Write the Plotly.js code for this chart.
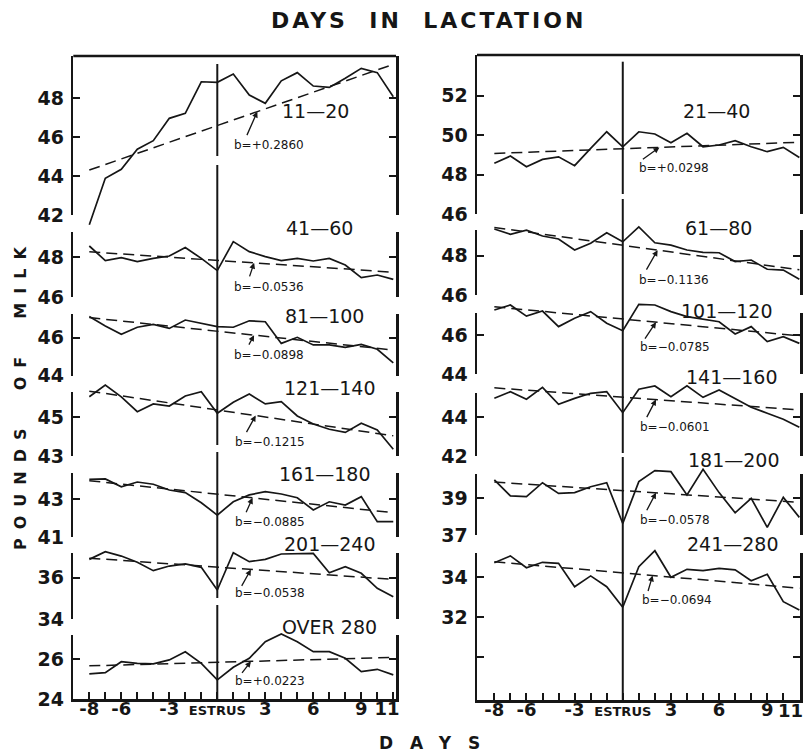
<!DOCTYPE html>
<html>
<head>
<meta charset="utf-8">
<script src="https://cdn.plot.ly/plotly-3.0.1.min.js"></script>
<style>
  html, body { margin: 0; padding: 0; background: #fff; }
  #chart { width: 809px; height: 755px; }
</style>
</head>
<body>
<div id="chart"></div>
<script>
// Days relative to estrus (0 = day of estrus)
const days = [-8, -7, -6, -5, -4, -3, -2, -1, 0, 1, 2, 3, 4, 5, 6, 7, 8, 9, 10, 11];
const dayLabels = {'-8': '-8', '-6': '-6', '-3': '-3', '0': 'ESTRUS', '3': '3', '6': '6', '9': '9', '11': '11'};

// Stage of lactation groups (days in lactation)
const groupsLeft  = ['11—20', '41—60', '81—100', '121—140', '161—180', '201—240', 'OVER 280'];
const groupsRight = ['21—40', '61—80', '101—120', '141—160', '181—200', '241—280'];

// Daily pounds of milk, days -8 .. 11
const milk11_20   = [41.50, 43.89, 44.35, 45.38, 45.82, 46.97, 47.23, 48.85, 48.82, 49.25, 48.17, 47.74, 48.90, 49.32, 48.63, 48.56, 49.03, 49.54, 49.32, 48.08];
const milk41_60   = [48.55, 47.82, 47.97, 47.77, 47.93, 48.05, 48.47, 47.93, 47.32, 48.77, 48.27, 48.02, 47.82, 47.93, 47.80, 47.93, 47.60, 46.97, 47.10, 46.88];
const milk81_100  = [47.11, 46.62, 46.18, 46.55, 46.70, 46.49, 46.93, 46.76, 46.58, 46.55, 46.89, 46.84, 45.70, 46.02, 45.62, 45.62, 45.49, 45.65, 45.39, 44.68];
const milk121_140 = [46.06, 46.67, 46.06, 45.29, 45.69, 45.58, 46.10, 46.32, 45.21, 45.78, 46.20, 45.69, 45.81, 45.07, 44.65, 44.38, 44.22, 44.69, 44.34, 43.35];
const milk161_180 = [44.05, 44.07, 43.66, 43.91, 43.79, 43.49, 43.35, 42.82, 42.17, 42.87, 43.23, 43.40, 43.28, 43.08, 42.44, 42.87, 42.70, 43.14, 41.82, 41.82];
const milk201_240 = [36.88, 37.25, 37.04, 36.74, 36.34, 36.56, 36.66, 36.50, 35.41, 37.20, 36.77, 36.88, 37.14, 37.14, 37.17, 36.24, 36.53, 36.21, 35.49, 35.09];
const milkOver280 = [25.27, 25.33, 25.88, 25.80, 25.77, 25.97, 26.38, 25.80, 24.97, 25.60, 26.05, 26.88, 27.27, 26.88, 26.38, 26.38, 26.05, 25.38, 25.50, 25.22];

const milk21_40   = [48.57, 48.94, 48.40, 48.77, 48.90, 48.45, 49.33, 50.17, 49.41, 50.17, 50.06, 49.61, 50.09, 49.41, 49.50, 49.72, 49.41, 49.16, 49.38, 48.87];
const milk61_80   = [49.36, 49.09, 49.30, 49.00, 48.85, 48.29, 48.63, 49.17, 48.71, 49.47, 48.66, 48.54, 48.29, 48.17, 48.15, 47.70, 47.78, 47.31, 47.27, 46.80];
const milk101_120 = [47.28, 47.54, 46.97, 47.23, 46.43, 46.86, 47.20, 46.60, 46.22, 47.57, 47.54, 47.20, 46.94, 46.80, 46.68, 46.05, 46.43, 45.66, 45.91, 45.57];
const milk141_160 = [44.98, 45.32, 44.93, 45.55, 44.67, 44.98, 45.24, 45.32, 44.24, 45.45, 45.62, 45.06, 45.63, 45.03, 45.41, 44.98, 44.52, 44.21, 43.90, 43.48];
const milk181_200 = [40.00, 39.13, 39.09, 39.85, 39.27, 39.31, 39.63, 39.85, 37.63, 39.91, 40.51, 40.45, 39.18, 40.58, 39.31, 38.21, 39.00, 37.42, 39.05, 37.96];
const milk241_280 = [34.73, 35.07, 34.48, 34.75, 34.70, 33.53, 34.07, 33.53, 32.50, 34.53, 35.33, 34.00, 34.40, 34.33, 34.45, 34.37, 33.83, 34.15, 32.78, 32.37];

// Regression slopes (b, lb per day) and fitted level at estrus
const slopesLeft  = [0.2860, -0.0536, -0.0898, -0.1215, -0.0885, -0.0538, 0.0223];
const slopesRight = [0.0298, -0.1136, -0.0785, -0.0601, -0.0578, -0.0694];
const levelLeft   = [46.60, 47.83, 46.34, 45.38, 43.27, 36.51, 25.85];
const levelRight  = [49.31, 48.53, 46.82, 45.04, 39.42, 34.22];

// Y tick values / labels for each panel
const yTicksLeft  = [[42, 44, 46, 48], [46, 48], [44, 46], [43, 45], [41, 43], [34, 36], [24, 26]];
const yTicksRight = [[46, 48, 50, 52], [46, 48], [44, 46], [42, 44], [37, 39], [30, 32, 34]];
const yTextRight6 = ['', '32', '34'];

const seriesLeft  = [milk11_20, milk41_60, milk81_100, milk121_140, milk161_180, milk201_240, milkOver280];
const seriesRight = [milk21_40, milk61_80, milk101_120, milk141_160, milk181_200, milk241_280];

// ---------------- layout geometry (pixels) ----------------
const W = 809, H = 755;
const INK = '#161616';
const FONT = 'DejaVu Sans, Arial, sans-serif';

const colLeft  = {x0: 73.3, x1: 396, range: [-9, 11.17], top: 56};
const colRight = {x0: 477,  x1: 800, range: [-9.08, 11.04], top: 55};

// panel frames: [top px, bottom px, value at bottom, value at top]
const framesLeft = [
  [56, 215, 42, 50.175], [231.5, 297, 46, 49.275], [314, 375.7, 44, 47.247],
  [391.7, 456, 43, 46.323], [473.3, 537.3, 41, 44.368], [553.3, 619.3, 34, 37.173],
  [635, 699.3, 24, 27.215]
];
const framesRight = [
  [55, 214, 46, 54.064], [230, 295, 46, 49.308], [313.3, 374, 44, 47.113],
  [392.7, 456, 42, 45.271], [474, 535, 37, 40.324], [553.3, 700, 27.865, 35.2]
];

const groupPosLeft  = [[315, 111.5], [319, 228], [324, 316], [330, 388], [325, 474], [330, 544], [329, 627]];
const groupPosRight = [[716, 111], [718, 228], [727, 311], [732, 377], [734, 460], [733, 544]];
const bPosLeft  = [[232, 145], [232, 287], [232, 355], [233, 442], [233, 522], [233, 593], [233, 681]];
const bPosRight = [[637, 168], [637, 280], [638, 347], [638, 427], [638, 520], [640, 600]];
// arrow: [day of arrow tip on the fitted line, tail dx, tail dy]
const arrowLeft  = [[2.5, -11, 25], [2.3, -5, 15], [2.3, -6, 11], [2.4, -10, 18], [2.2, -7, 16], [2.1, -10, 18], [2.1, -10, 13]];
const arrowRight = [[2.28, -18, 13], [2.17, -12, 21], [2.07, -12, 18], [2.07, -10, 19], [2.07, -10, 19], [1.86, -5, 17]];
// estrus marker segments (top/bottom px)
const estrusLeft  = [[64, 156], [165, 445], [452, 598], [605, 699]];
const estrusRight = [[61.7, 194], [199, 453], [457, 700]];

const px = v => v / W;
const py = v => 1 - v / H;

const data = [];
const layout = {
  width: W, height: H,
  margin: {l: 0, r: 0, t: 0, b: 0, pad: 0},
  paper_bgcolor: '#ffffff',
  plot_bgcolor: 'rgba(0,0,0,0)',
  showlegend: false,
  font: {family: FONT, color: INK},
  annotations: [],
  shapes: []
};

const lastDay = days[days.length - 1];
// day labels; the final one sits at the frame edge and is placed separately
function dayTickText(withLast) {
  return days.map(d => {
    const t = dayLabels[String(d)] || '';
    if (t === 'ESTRUS') return '<span style="font-size:13px">ESTRUS</span>';
    if (d === lastDay) return withLast ? t + '\u00a0\u00a0' : '';
    return t;
  });
}

function xAxis(col, anchor, withLast) {
  return {
    domain: [px(col.x0), px(col.x1)], range: col.range, anchor: anchor,
    tickmode: 'array', tickvals: days, ticktext: dayTickText(withLast),
    ticks: 'inside', ticklen: 7, tickwidth: 2, tickcolor: INK,
    showline: true, linewidth: 2.5, linecolor: INK,
    showgrid: false, zeroline: false, automargin: false, fixedrange: true,
    tickfont: {family: FONT, size: 18, color: INK, weight: 'bold'},
    ticklabelstandoff: -8, ticklabeloverflow: 'allow'
  };
}

let axisIdx = 0;
function axName(i) { return i === 1 ? 'yaxis' : 'yaxis' + i; }
function axRef(i) { return i === 1 ? 'y' : 'y' + i; }

// visible bracket axes, one per panel
function buildFrames(frames, ticks, xref, tickTextOverride) {
  frames.forEach((f, k) => {
    const [top, bot, lo, hi] = f;
    axisIdx += 1;
    const fid = axisIdx;
    const tt = (tickTextOverride && tickTextOverride[k]) ? tickTextOverride[k] : ticks[k].map(String);
    layout[axName(fid)] = {
      domain: [py(bot), py(top)], range: [lo - 1e-4, hi], anchor: xref,
      tickmode: 'array', tickvals: ticks[k], ticktext: tt,
      ticks: 'inside', ticklen: 7, tickwidth: 2, tickcolor: INK,
      showline: true, mirror: 'ticks', linewidth: 2.5, linecolor: INK,
      showgrid: false, zeroline: false, automargin: false, fixedrange: true,
      tickfont: {family: FONT, size: 19, color: INK, weight: 'bold'},
      ticklabelstandoff: 3
    };
    data.push({x: [], y: [], xaxis: xref, yaxis: axRef(fid), type: 'scatter', mode: 'lines', hoverinfo: 'skip'});
  });
}

// series, fitted lines and labels; each panel's series sits on a full-height
// invisible axis sharing the panel's value-to-pixel scale so lines are not cut
function buildData(frames, series, slopes, levels, groups, gPos, bPos, arrows, xref) {
  frames.forEach((f, k) => {
    const [top, bot, lo, hi] = f;
    const perPx = (hi - lo) / (bot - top);
    axisIdx += 1;
    const did = axisIdx;
    layout[axName(did)] = {
      domain: [0, 1], range: [lo - (H - bot) * perPx, hi + top * perPx],
      anchor: xref, visible: false, fixedrange: true
    };
    const yr = axRef(did);
    data.push({
      x: days, y: series[k], xaxis: xref, yaxis: yr, type: 'scatter', mode: 'lines',
      line: {color: INK, width: 1.7}, hoverinfo: 'skip'
    });
    const b = slopes[k], a = levels[k];
    const fx = [days[0], lastDay];
    data.push({
      x: fx, y: fx.map(d => a + b * d), xaxis: xref, yaxis: yr, type: 'scatter', mode: 'lines',
      line: {color: INK, width: 1.5, dash: '11px,6px'}, hoverinfo: 'skip'
    });
    layout.annotations.push({
      xref: 'paper', yref: 'paper', x: px(gPos[k][0]), y: py(gPos[k][1]),
      xanchor: 'center', yanchor: 'middle', showarrow: false,
      text: groups[k], font: {family: FONT, size: 19, color: INK}
    });
    const sign = b >= 0 ? '+' : '−';
    layout.annotations.push({
      xref: 'paper', yref: 'paper', x: px(bPos[k][0]), y: py(bPos[k][1]),
      xanchor: 'left', yanchor: 'middle', showarrow: false,
      text: 'b=' + sign + Math.abs(b).toFixed(4), font: {family: FONT, size: 12, color: INK}
    });
    const [ad, ax, ay] = arrows[k];
    layout.annotations.push({
      xref: xref, yref: yr, x: ad, y: a + b * ad, ax: ax, ay: ay,
      showarrow: true, text: '', arrowhead: 2, arrowsize: 0.9, arrowwidth: 1.3,
      arrowcolor: INK, standoff: 0, startstandoff: 0
    });
  });
}

buildFrames(framesLeft, yTicksLeft, 'x', null);
buildFrames(framesRight, yTicksRight, 'x2', [null, null, null, null, null, yTextRight6]);
buildData(framesLeft, seriesLeft, slopesLeft, levelLeft, groupsLeft, groupPosLeft, bPosLeft, arrowLeft, 'x');
buildData(framesRight, seriesRight, slopesRight, levelRight, groupsRight, groupPosRight, bPosRight, arrowRight, 'x2');

layout.xaxis = xAxis(colLeft, 'y7', true);
layout.xaxis2 = xAxis(colRight, 'y13', false);

// last day label of the right column, pulled in from the page edge
layout.annotations.push({
  xref: 'x2', yref: 'paper', x: lastDay, y: py(710), xshift: -9,
  xanchor: 'center', yanchor: 'middle', showarrow: false,
  text: dayLabels[String(lastDay)], font: {family: FONT, size: 18, color: INK, weight: 'bold'}
});

// top border of each column
[colLeft, colRight].forEach(c => {
  layout.shapes.push({type: 'line', xref: 'paper', yref: 'paper',
    x0: px(c.x0), x1: px(c.x1), y0: py(c.top), y1: py(c.top),
    line: {color: INK, width: 2.5}});
});
// estrus marker
[[estrusLeft, 'x'], [estrusRight, 'x2']].forEach(([segs, xr]) => {
  segs.forEach(s => layout.shapes.push({type: 'line', xref: xr, yref: 'paper',
    x0: 0, x1: 0, y0: py(s[1]), y1: py(s[0]), line: {color: INK, width: 2}}));
});

// titles
layout.annotations.push({
  xref: 'paper', yref: 'paper', x: px(428), y: py(20), xanchor: 'center', yanchor: 'middle',
  showarrow: false,
  text: '<span style="letter-spacing:3px">DAYS\u00a0\u00a0IN\u00a0\u00a0LACTATION</span>',
  font: {family: FONT, size: 22, color: INK, weight: 'bold'}
});
layout.annotations.push({
  xref: 'paper', yref: 'paper', x: px(21), y: py(394), xanchor: 'center', yanchor: 'middle',
  showarrow: false, textangle: -90,
  text: '<span style="letter-spacing:9px">POUNDS\u00a0\u00a0OF\u00a0\u00a0MILK</span>',
  font: {family: FONT, size: 16, color: INK, weight: 'bold'}
});
layout.annotations.push({
  xref: 'paper', yref: 'paper', x: px(438), y: py(743), xanchor: 'center', yanchor: 'middle',
  showarrow: false,
  text: '<span style="letter-spacing:17px">DAYS</span>',
  font: {family: FONT, size: 17, color: INK, weight: 'bold'}
});

Plotly.newPlot('chart', data, layout, {staticPlot: true, displayModeBar: false});
</script>
</body>
</html>
